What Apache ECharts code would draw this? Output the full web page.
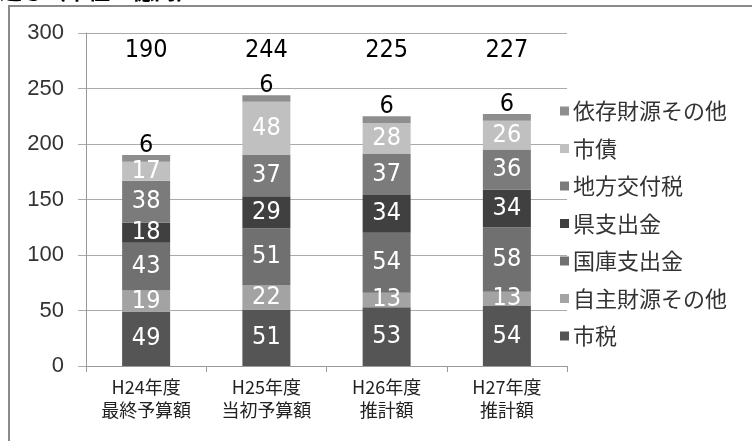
<!DOCTYPE html>
<html>
<head>
<meta charset="utf-8">
<script src="https://cdn.jsdelivr.net/npm/echarts@6/dist/echarts.min.js"></script>
<style>html,body{margin:0;padding:0;background:#fff}#c{width:752px;height:441px}</style>
</head>
<body>
<div id="c"></div>
<script>
const categories = ['H24年度\n最終予算額', 'H25年度\n当初予算額', 'H26年度\n推計額', 'H27年度\n推計額'];
const totals = ['190', '244', '225', '227'];
const seriesNames = ['市税', '自主財源その他', '国庫支出金', '県支出金', '地方交付税', '市債', '依存財源その他'];
const shizei = [49, 51, 53, 54];
const jishuOther = [19, 22, 13, 13];
const kokko = [43, 51, 54, 58];
const kenShishutsu = [18, 29, 34, 34];
const chihoKofu = [38, 37, 37, 36];
const shisai = [17, 48, 28, 26];
const izonOther = [6, 6, 6, 6];
const yTicks = [0, 50, 100, 150, 200, 250, 300];

const seriesValues = [shizei, jishuOther, kokko, kenShishutsu, chihoKofu, shisai, izonOther];
const colors = ['#555555', '#a3a3a3', '#707070', '#404040', '#7b7b7b', '#c0c0c0', '#8e8e8e'];
const numFont = '"Liberation Sans Narrow", "DejaVu Sans Condensed", "Liberation Sans", sans-serif';

const chart = echarts.init(document.getElementById('c'));
const series = seriesNames.map((name, i) => {
  const top = i === seriesNames.length - 1;
  return {
    name: name,
    type: 'bar',
    stack: 'total',
    barWidth: 48,
    data: seriesValues[i],
    itemStyle: { color: colors[i] },
    label: {
      show: true,
      position: top ? 'top' : 'inside',
      distance: top ? -3 : 5,
      color: top ? '#000' : '#fff',
      fontFamily: numFont,
      fontSize: 25
    },
    emphasis: { disabled: true }
  };
});

chart.setOption({
  animation: false,
  color: colors,
  graphic: [
    { type: 'rect', shape: { x: 9, y: 6, width: 800, height: 500 }, style: { fill: 'none', stroke: '#8a8a8a', lineWidth: 2 }, silent: true },
    { type: 'text', x: -22, y: 2, style: { text: '見通し（単位：億円）', fontSize: 22, fontWeight: 'bold', fill: '#000', fontFamily: '"Noto Sans CJK JP", sans-serif', textVerticalAlign: 'bottom' }, silent: true }
  ],
  grid: { left: 86, right: 185, top: 33, bottom: 75 },
  legend: {
    orient: 'vertical',
    left: 555,
    top: 95,
    icon: 'rect',
    itemWidth: 9,
    itemHeight: 9,
    itemGap: 15.5,
    data: seriesNames.slice().reverse(),
    textStyle: { fontSize: 22, lineHeight: 20, color: '#333', fontFamily: '"Noto Sans CJK JP", sans-serif', padding: [0, 0, 0, -1] }
  },
  xAxis: [{
    type: 'category',
    data: categories,
    axisLine: { lineStyle: { color: '#999', width: 1 } },
    axisTick: { show: true, length: 6, lineStyle: { color: '#999' } },
    axisLabel: { color: '#222', fontSize: 18, lineHeight: 23, margin: 10, fontFamily: '"Noto Sans CJK JP", sans-serif' }
  }, {
    type: 'category',
    position: 'top',
    data: totals,
    axisLine: { show: false },
    axisTick: { show: false },
    axisLabel: { color: '#000', fontSize: 25, margin: -30, fontFamily: numFont }
  }],
  yAxis: {
    type: 'value',
    min: yTicks[0],
    max: yTicks[yTicks.length - 1],
    interval: yTicks[1] - yTicks[0],
    axisLine: { show: true, lineStyle: { color: '#999' } },
    axisTick: { show: true, length: 8, lineStyle: { color: '#aaa' } },
    splitLine: { lineStyle: { color: '#aaa', width: 1 } },
    axisLabel: { color: '#333', fontSize: 22, margin: 22, fontFamily: '"Liberation Sans", sans-serif' }
  },
  series: series
});
</script>
</body>
</html>
